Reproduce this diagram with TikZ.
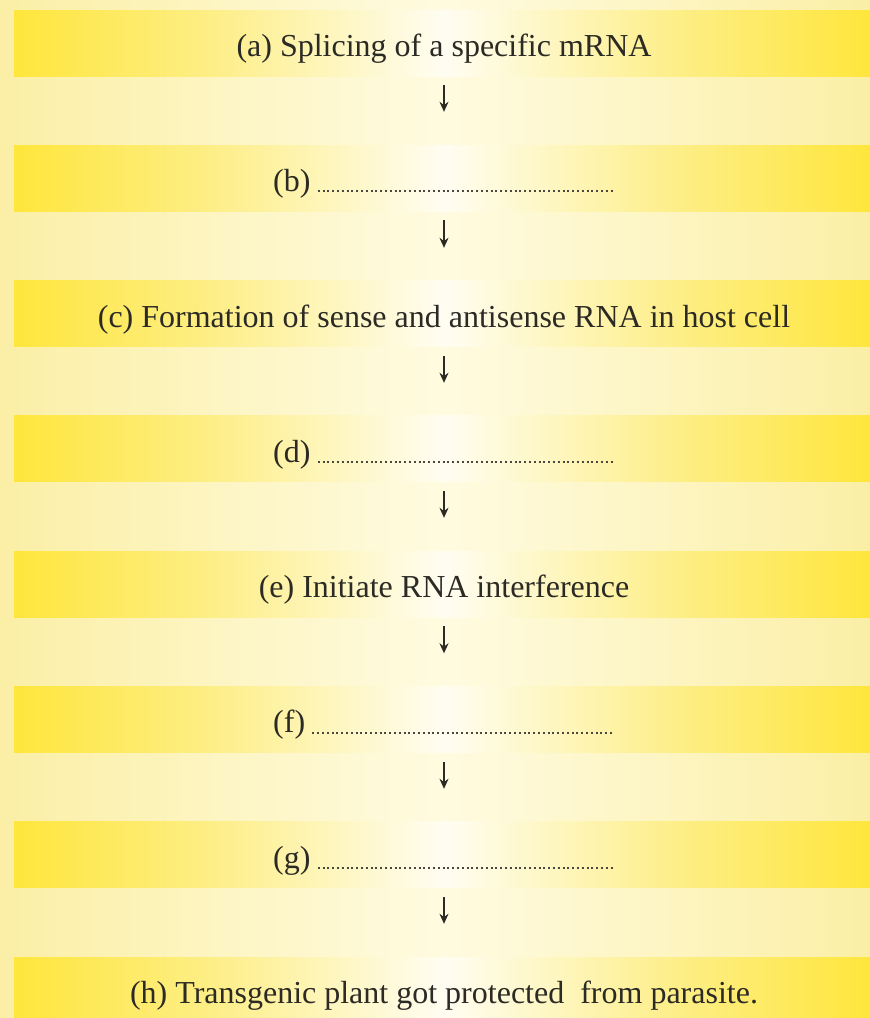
\documentclass[tikz,border=0pt]{standalone}
\usepackage{fontspec}
\setmainfont{Liberation Serif}
\usetikzlibrary{arrows.meta}
\definecolor{bgedge}{HTML}{FBEFA6}
\definecolor{bgmid}{HTML}{FFFBE0}
\definecolor{bandedge}{HTML}{FFE63C}
\definecolor{bandmid}{HTML}{FDEE86}
\definecolor{bandctr}{HTML}{FFFDF2}
\definecolor{ink}{HTML}{2B2A24}
\definecolor{dotink}{HTML}{4A473E}
\begin{document}
\begin{tikzpicture}[x=1pt,y=-1pt,
  lbl/.style={font=\fontsize{32}{35}\selectfont, text=ink, inner sep=0pt, text height=23pt, text depth=7pt, anchor=base},
  blanklbl/.style={lbl, anchor=base west},
  blankline/.style={draw=dotink, line width=2pt, dash pattern=on 2pt off 2.8pt},
  flow/.style={draw=ink, line width=1.4pt, shorten <=22pt, shorten >=56pt, -{Stealth[length=10pt,width=9pt]}},
]
\useasboundingbox (0,0) rectangle (870,1018);
\fill[left color=bgedge,right color=bgmid] (0,0) rectangle (444.5,1018);
\fill[left color=bgmid,right color=bgedge] (444,0) rectangle (870,1018);
\foreach \i in {0,...,7}{
  \pgfmathsetmacro\t{10+135.3*\i}
  \pgfmathsetmacro\b{min(\t+66,1018)}
  \fill[left color=bandedge,right color=bandmid] (14,\t) rectangle (210.5,\b);
  \fill[left color=bandmid,right color=bandctr] (210,\t) rectangle (444.5,\b);
  \fill[left color=bandctr,right color=bandmid] (444,\t) rectangle (680.5,\b);
  \fill[left color=bandmid,right color=bandedge] (680,\t) rectangle (870,\b);
}
\coordinate (dotend) at (614,0);
\node[lbl] (a) at (444,56) {(a) Splicing of a specific mRNA};
\node[blanklbl] (b) at (273,191) {(b)};
\node[lbl] (c) at (444,327) {(c) Formation of sense and antisense RNA in host cell};
\node[blanklbl] (d) at (273,462) {(d)};
\node[lbl] (e) at (444,597) {(e) Initiate RNA interference};
\node[blanklbl] (f) at (273,732.5) {(f)};
\node[blanklbl] (g) at (273,868) {(g)};
\node[lbl] (h) at (444,1003) {(h) Transgenic plant got protected\ \ from parasite.};
\foreach \n in {b,d,f,g}{
  \draw[blankline] ([xshift=7pt]\n.base east) -- (dotend |- \n.base);
}
\draw[flow] (a.south) -- (a.south |- b.north);
\draw[flow] (a.south |- b.south) -- (a.south |- c.north);
\draw[flow] (c.south) -- (c.south |- d.north);
\draw[flow] (c.south |- d.south) -- (e.north);
\draw[flow] (e.south) -- (e.south |- f.north);
\draw[flow] (e.south |- f.south) -- (e.south |- g.north);
\draw[flow] (e.south |- g.south) -- (h.north);
\end{tikzpicture}
\end{document}
